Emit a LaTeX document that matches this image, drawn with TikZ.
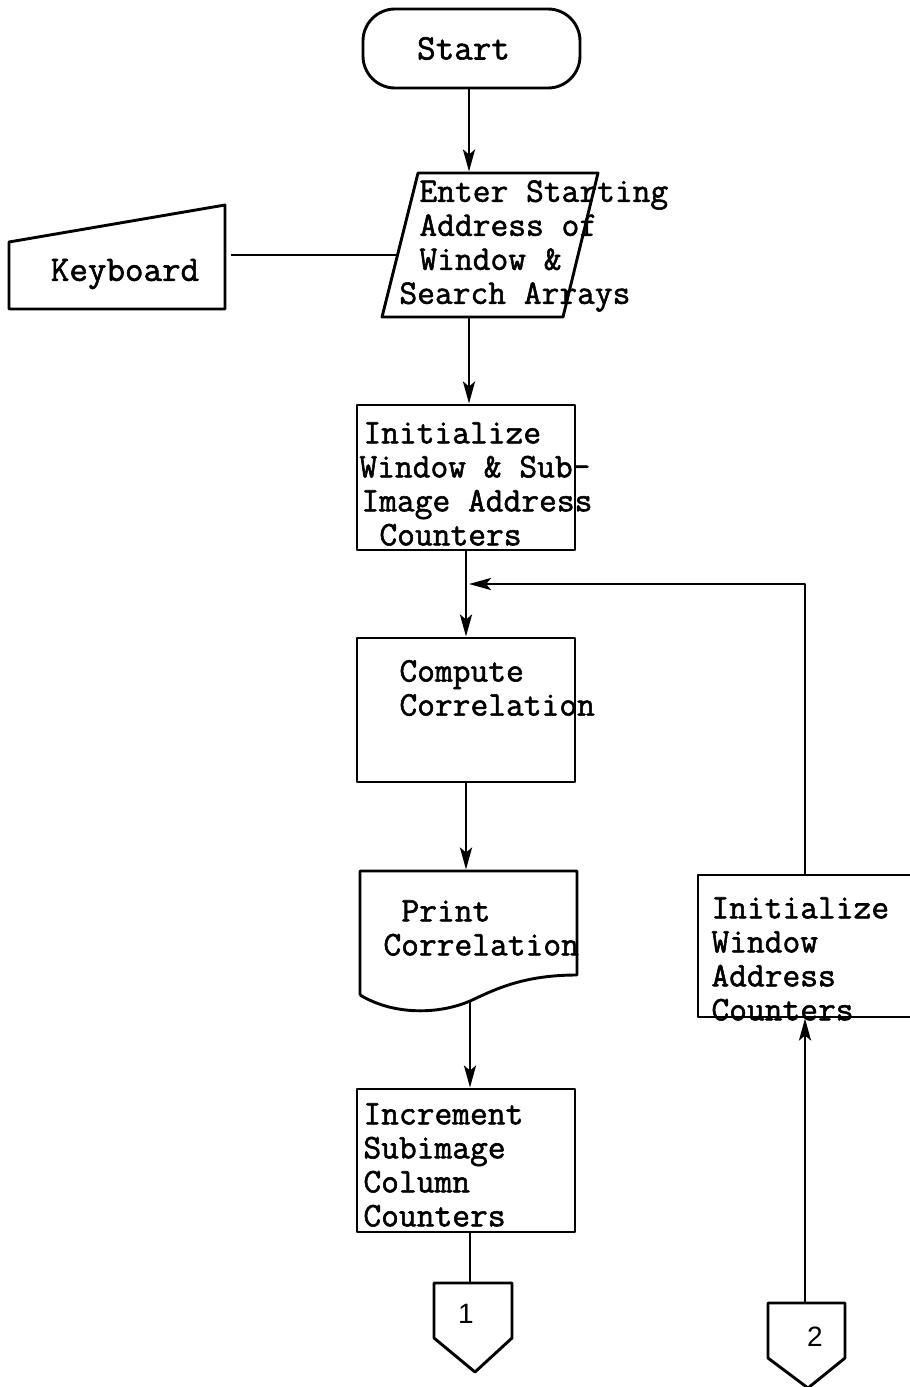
\documentclass[tikz,border=0pt]{standalone}
\usepackage{fontspec}
\newfontfamily\tw{Latin Modern Mono}[FakeBold=1.6]
\newfontfamily\digitfont{Liberation Sans}
\usetikzlibrary{arrows.meta}
\begin{document}
\begin{tikzpicture}[x=1pt,y=-1pt,
  line width=2.9pt, line join=round,
  box/.style={draw, rectangle, inner sep=0pt},
  blank/.style={rectangle, inner sep=0pt},
  txt/.style={font=\fontsize{34.5}{34}\selectfont\tw, align=left, inner sep=0pt, anchor=west},
  num/.style={font=\fontsize{28}{28}\selectfont\digitfont, inner sep=0pt},
  flow/.style={-{Stealth[length=22pt,width=12pt,inset=5pt]}},
  conn/.style={}]
\useasboundingbox (0,0) rectangle (910,1387);
\clip (0,0) rectangle (910,1387);

% Start terminal
\node[draw, rounded corners=32pt, minimum width=217pt, minimum height=79pt,
  font=\fontsize{36}{32}\selectfont\tw] (start) at (471.5,48.5) {\hspace*{-16pt}Start};

% Enter (parallelogram input)
\coordinate (enTL) at (418,173);
\coordinate (enTR) at (598,173);
\coordinate (enBR) at (563,317);
\coordinate (enBL) at (382,317);
\draw (enTL) -- (enTR) -- (enBR) -- (enBL) -- cycle;
\node[blank, minimum width=216pt, minimum height=144pt] (enter) at (490,245) {};
\node[txt] (enterT) at (398,246) {\hspace*{20pt}Enter Starting\\\hspace*{20pt}Address of\\\hspace*{20pt}Window \&\\Search Arrays};
\coordinate (enS) at (469,317);
\coordinate (enW) at (398,255);

% Keyboard (manual input)
\coordinate (kbTL) at (9,242);
\coordinate (kbTR) at (225,205);
\coordinate (kbBR) at (225,309);
\coordinate (kbBL) at (9,309);
\draw (kbTL) -- (kbTR) -- (kbBR) -- (kbBL) -- cycle;
\node[txt, anchor=center, font=\fontsize{36}{32}\selectfont\tw] (kbd) at (125,274) {Keyboard};
\coordinate (kbE) at (231,255);

% Initialize window & sub-image
\node[box, minimum width=218pt, minimum height=145pt] (init) at (466,477.5) {};
\node[txt] (initT) at (358,484) {\hspace*{4pt}Initialize\\Window \& Sub-\\\hspace*{2pt}Image Address\\\hspace*{20pt}Counters};

% Compute correlation
\node[box, minimum width=218pt, minimum height=144pt] (comp) at (466,710) {};
\node[txt] (compT) at (398,688) {Compute\\Correlation};

% Print correlation (document)
\coordinate (prTL) at (360,871);
\coordinate (prTR) at (577,871);
\coordinate (prBR) at (577,975);
\coordinate (prBL) at (360,995);
\draw (prBL) -- (prTL) -- (prTR) -- (prBR)
  .. controls (522,975) and (494,990) .. (470,1001)
  .. controls (440,1014) and (395,1016) .. (prBL);
\node[blank, minimum width=217pt, minimum height=132pt] (print) at (468.5,937) {};
\node[txt] (printT) at (382,928) {\hspace*{18pt}Print\\Correlation};
\coordinate (prS) at (470,1001);

% Increment subimage column counters
\node[box, minimum width=218pt, minimum height=143pt] (incr) at (466,1160.5) {};
\node[txt] (incrT) at (362,1165) {Increment\\Subimage\\Column\\Counters};

% Off-page connector 1
\node[num] (c1) at (466,1314) {1};
\coordinate (c1top) at (470,1283);
\draw (434,1283) -- (512,1283) -- (512,1338) -- (475,1372) -- (434,1338) -- cycle;

% Initialize window address counters
\node[box, minimum width=230pt, minimum height=142pt] (iw) at (813,946) {};
\node[txt] (iwT) at (710,959) {Initialize\\Window\\Address\\Counters};

% Off-page connector 2
\node[num] (c2) at (815,1337) {2};
\coordinate (c2top) at (805,1303);
\draw (768,1303) -- (845,1303) -- (845,1358) -- (808,1388) -- (768,1358) -- cycle;

% loop junction
\coordinate (join) at (469,584);

% connectors
\draw[flow] (start.south -| enS) -- (enS |- enter.north);
\draw[conn] (kbE) -- (enW);
\draw[flow] (enS) -- (enS |- init.north);
\draw[flow] (init.south) -- (init.south |- comp.north);
\draw[flow] (comp.south) -- (comp.south |- print.north);
\draw[flow] (prS) -- (prS |- incr.north);
\draw[conn] (prS |- incr.south) -- (c1top);
\draw[flow] (c2top) -- (c2top |- iw.south);
\draw[flow] (c2top |- iw.north) -- (c2top |- join) -- (join);
\end{tikzpicture}
\end{document}
